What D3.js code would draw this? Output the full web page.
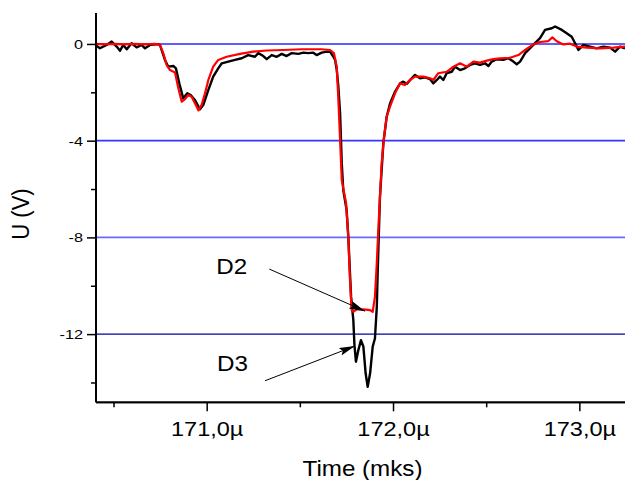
<!DOCTYPE html>
<html>
<head>
<meta charset="utf-8">
<script src="https://cdn.jsdelivr.net/npm/d3@7/dist/d3.min.js"></script>
<style>
  html, body { margin: 0; padding: 0; background: #fff; }
  svg { display: block; font-family: "Liberation Sans", Arial, sans-serif; }
</style>
</head>
<body>
<svg id="chart" width="625" height="480"></svg>
<script>
// Oscilloscope traces of the two detectors: time in µs, voltage in V
const timeD3 = [170.406,170.427,170.463,170.490,170.517,170.535,170.552,170.571,170.597,170.624,170.651,170.669,170.696,170.732,170.749,170.758,170.776,170.794,170.821,170.835,170.853,170.874,170.896,170.914,170.937,170.964,170.982,171.009,171.035,171.062,171.081,171.116,171.152,171.188,171.223,171.259,171.277,171.304,171.322,171.349,171.376,171.403,171.429,171.456,171.492,171.519,171.545,171.572,171.590,171.617,171.644,171.662,171.680,171.689,171.698,171.706,171.716,171.725,171.733,171.751,171.760,171.775,171.787,171.793,171.801,171.814,171.828,171.841,171.853,171.864,171.877,171.891,171.903,171.913,171.918,171.930,171.948,171.966,171.984,172.011,172.038,172.055,172.074,172.100,172.118,172.145,172.172,172.199,172.216,172.235,172.252,172.270,172.288,172.315,172.333,172.360,172.386,172.413,172.440,172.467,172.494,172.512,172.530,172.557,172.592,172.619,172.646,172.664,172.682,172.709,172.753,172.789,172.816,172.852,172.870,172.906,172.932,172.959,172.977,172.995,173.022,173.057,173.093,173.129,173.165,173.192,173.218,173.245];
const voltD3 = [-0.06,-0.18,-0.04,0.10,-0.11,-0.28,-0.04,-0.22,0.03,-0.14,-0.04,-0.18,-0.04,-0.01,-0.04,-0.25,-0.66,-0.94,-0.91,-1.01,-1.63,-2.25,-2.04,-2.11,-2.32,-2.70,-2.52,-1.90,-1.35,-1.01,-0.80,-0.73,-0.66,-0.59,-0.46,-0.53,-0.38,-0.50,-0.63,-0.46,-0.53,-0.41,-0.50,-0.38,-0.41,-0.36,-0.38,-0.36,-0.46,-0.36,-0.32,-0.32,-0.53,-0.66,-1.07,-1.70,-2.87,-4.94,-6.04,-6.87,-7.97,-10.46,-11.42,-12.45,-13.14,-12.66,-12.25,-12.52,-13.62,-14.18,-13.62,-12.52,-12.18,-10.87,-9.35,-6.32,-4.11,-3.01,-2.46,-1.97,-1.63,-1.56,-1.65,-1.42,-1.28,-1.42,-1.38,-1.46,-1.63,-1.49,-1.35,-1.49,-1.21,-1.15,-0.94,-1.08,-1.01,-0.87,-0.80,-0.87,-0.80,-0.91,-0.73,-0.63,-0.66,-0.59,-0.73,-0.84,-0.73,-0.38,-0.04,0.24,0.58,0.65,0.72,0.58,0.44,0.30,0.03,-0.25,-0.04,-0.11,-0.18,-0.11,-0.15,-0.32,-0.11,-0.18];

const timeD2 = [170.406,170.454,170.508,170.561,170.615,170.669,170.722,170.749,170.767,170.785,170.803,170.830,170.848,170.866,170.884,170.901,170.919,170.937,170.956,170.973,170.991,171.009,171.035,171.062,171.107,171.179,171.250,171.322,171.411,171.510,171.617,171.662,171.683,171.698,171.706,171.716,171.725,171.748,171.760,171.769,171.778,171.787,171.805,171.841,171.877,171.891,171.903,171.913,171.921,171.930,171.939,171.952,171.966,171.984,172.011,172.038,172.064,172.091,172.118,172.163,172.199,172.216,172.243,172.288,172.324,172.360,172.396,172.431,172.467,172.503,172.538,172.574,172.628,172.673,172.709,172.753,172.789,172.834,172.855,172.879,172.914,172.950,172.986,173.040,173.111,173.183,173.245];
const voltD2 = [0.00,-0.02,0.00,-0.02,0.00,-0.02,0.00,-0.04,-0.38,-0.87,-1.08,-1.18,-1.83,-2.39,-2.28,-2.11,-2.18,-2.45,-2.75,-2.52,-2.04,-1.49,-0.94,-0.66,-0.53,-0.41,-0.32,-0.27,-0.25,-0.22,-0.22,-0.25,-0.38,-0.94,-2.18,-3.97,-5.63,-6.58,-7.97,-9.76,-11.00,-11.08,-10.98,-10.98,-11.01,-11.08,-10.46,-9.06,-7.70,-6.32,-4.94,-3.84,-3.01,-2.59,-2.04,-1.63,-1.70,-1.49,-1.35,-1.35,-1.42,-1.49,-1.21,-1.15,-0.94,-0.80,-0.94,-0.73,-0.77,-0.69,-0.63,-0.60,-0.57,-0.46,-0.25,-0.02,0.08,0.12,0.27,0.11,-0.02,0.01,-0.11,-0.15,-0.18,-0.15,-0.11];

// Axis ticks and labels
const xMajorTicks = [171, 172, 173];
const xMinorTicks = [170.5, 171.5, 172.5];
const xTickLabels = ["171,0µ", "172,0µ", "173,0µ"];
const yMajorTicks = [0, -4, -8, -12];
const yMinorTicks = [-2, -6, -10, -14];
const yTickLabels = ["0", "-4", "-8", "-12"];

// Horizontal reference levels and their colours
const gridLevels = [0, -4, -8, -12];
const gridColors = ["#2a2aff", "#3535ff", "#6a6aff", "#0000a0"];

// Callouts: label position, arrow tail and arrow tip, all in data units
const callouts = [
  { text: "D2", lx: 171.052, ly: -9.52, tx: 171.336, ty: -9.31, hx: 171.850, hy: -11.05 },
  { text: "D3", lx: 171.055, ly: -13.53, tx: 171.313, ty: -13.93, hx: 171.796, hy: -12.49 }
];

const svg = d3.select("#chart");
const plotLeft = 96, plotRight = 625, plotTop = 13, plotBottom = 402.3;

const x = d3.scaleLinear().domain([170.406, 173.245]).range([plotLeft, plotRight]);
const y = d3.scaleLinear().domain([-14.82, 1.28]).range([plotBottom, plotTop]);

// reference levels
svg.append("g").selectAll("line").data(gridLevels).join("line")
  .attr("x1", plotLeft).attr("x2", plotRight)
  .attr("y1", d => y(d)).attr("y2", d => y(d))
  .attr("stroke", (d, i) => gridColors[i])
  .attr("stroke-width", (d, i) => i === 3 ? 1.3 : 1.6);

// traces
const line = d3.line().x(d => x(d[0])).y(d => y(d[1]));
const d3Data = d3.zip(timeD3, voltD3);
const d2Data = d3.zip(timeD2, voltD2);

svg.append("path").datum(d3Data)
  .attr("d", line).attr("fill", "none")
  .attr("stroke", "#000").attr("stroke-width", 2.4).attr("stroke-linejoin", "round");
svg.append("path").datum(d2Data)
  .attr("d", line).attr("fill", "none")
  .attr("stroke", "#ff0000").attr("stroke-width", 2.2).attr("stroke-linejoin", "round");

// arrows
const defs = svg.append("defs");
defs.append("marker").attr("id", "arrowhead")
  .attr("viewBox", "0 0 16 8").attr("refX", 16).attr("refY", 4)
  .attr("markerWidth", 16).attr("markerHeight", 8)
  .attr("markerUnits", "userSpaceOnUse").attr("orient", "auto")
  .append("path").attr("d", "M0,0 L16,4 L0,8 L3,4 Z").attr("fill", "#000");

svg.append("g").selectAll("line").data(callouts).join("line")
  .attr("x1", d => x(d.tx)).attr("y1", d => y(d.ty))
  .attr("x2", d => x(d.hx)).attr("y2", d => y(d.hy))
  .attr("stroke", "#000").attr("stroke-width", 1)
  .attr("marker-end", "url(#arrowhead)");

svg.append("g").selectAll("g").data(callouts).join("g")
  .attr("transform", d => `translate(${x(d.lx)},${y(d.ly)}) scale(1.1,1)`)
  .append("text").text(d => d.text)
  .attr("font-size", 22).attr("fill", "#000");

// axes
const xAxis = svg.append("g").attr("transform", `translate(0,${plotBottom})`);
xAxis.call(d3.axisBottom(x).tickValues(xMinorTicks).tickSize(5).tickFormat(""));
xAxis.append("g").call(d3.axisBottom(x).tickValues(xMajorTicks).tickSize(9)
  .tickFormat((d, i) => xTickLabels[i]));
xAxis.selectAll(".domain").attr("d", `M${plotLeft},0H${plotRight}`).attr("stroke-width", 1.8);
xAxis.selectAll(".tick line").attr("stroke-width", 1.5);
xAxis.selectAll("text")
  .attr("y", null).attr("dy", null)
  .attr("transform", "translate(0,34) scale(1.12,1)")
  .attr("font-size", 21).attr("fill", "#000");

const yAxis = svg.append("g").attr("transform", `translate(${plotLeft},0)`);
yAxis.call(d3.axisLeft(y).tickValues(yMinorTicks).tickSize(5).tickFormat(""));
yAxis.append("g").call(d3.axisLeft(y).tickValues(yMajorTicks).tickSize(9)
  .tickFormat((d, i) => yTickLabels[i]));
yAxis.selectAll(".domain").attr("d", `M0,${plotTop}V${plotBottom}`).attr("stroke-width", 1.8);
yAxis.selectAll(".tick line").attr("stroke-width", 1.5);
yAxis.selectAll("text")
  .attr("x", null).attr("dy", null)
  .attr("transform", "translate(-13,4.5) scale(1.3,1)")
  .attr("font-size", 12.5).attr("fill", "#000");

// axis titles
svg.append("text")
  .attr("transform", `translate(${(plotLeft + plotRight) / 2 + 2},476) scale(1.1,1)`)
  .attr("text-anchor", "middle").attr("font-size", 22).attr("fill", "#000")
  .text("Time (mks)");
svg.append("text")
  .attr("transform", "translate(29,214) rotate(-90) scale(1.0,1.1)")
  .attr("text-anchor", "middle").attr("font-size", 22).attr("fill", "#000")
  .text("U (V)");
</script>
</body>
</html>
